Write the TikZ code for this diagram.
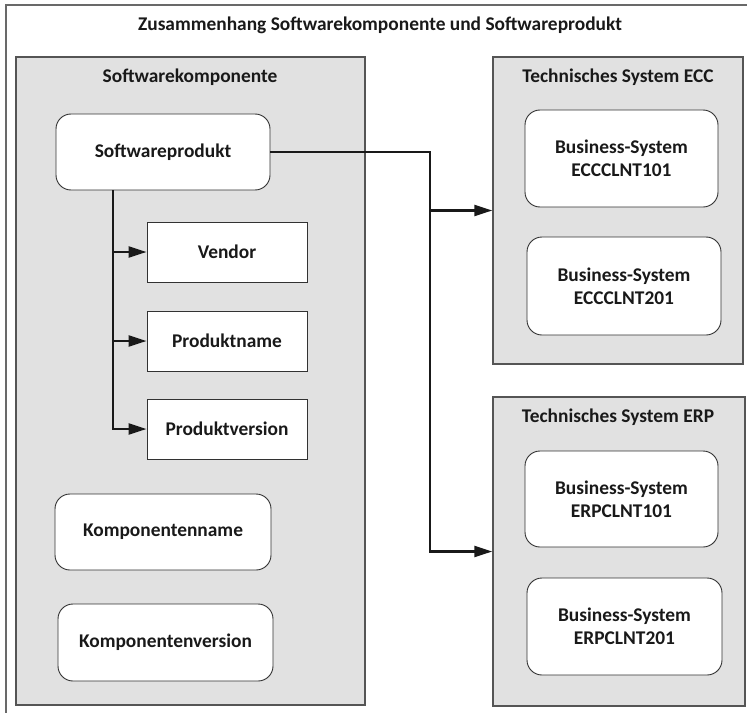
\documentclass[tikz,border=0pt]{standalone}
\usepackage{fontspec}
\setmainfont{Carlito}
\usetikzlibrary{arrows.meta,calc}
\definecolor{panelfill}{RGB}{225,225,225}
\definecolor{panelline}{RGB}{85,85,85}
\definecolor{frameline}{RGB}{105,105,105}
\definecolor{boxline}{RGB}{50,50,50}
\begin{document}
\begin{tikzpicture}[x=1bp,y=-1bp,
  every node/.style={font=\fontsize{19.4bp}{23bp}\selectfont\bfseries, text=black!90},
  panel/.style={draw=panelline, line width=1.4bp, fill=panelfill, rectangle, inner sep=0pt},
  rbox/.style={draw=boxline, line width=0.9bp, fill=white, rounded corners=15bp, align=center, inner sep=0pt},
  sbox/.style={draw=boxline, line width=0.9bp, fill=white, rectangle, align=center, inner sep=0pt, minimum width=160bp, minimum height=60bp},
  ptitle/.style={inner sep=0pt},
  conn/.style={line width=2.4bp, black!90},
  arr/.style={conn, -{Triangle[length=18bp,width=11bp]}}
]
\useasboundingbox (0,0) rectangle (747,713);
% outer frame (only top and left visible)
\draw[frameline, line width=2bp] (5.5,720) -- (5.5,5) -- (760,5);
\node[ptitle] (title) at (380,25) {Zusammenhang Softwarekomponente und Softwareprodukt};

% panels
\node[panel, minimum width=349bp, minimum height=648bp] (skp) at (190.5,381) {};
\node[panel, minimum width=250bp, minimum height=307bp] (ecc) at (618,210.5) {};
\node[panel, minimum width=252bp, minimum height=309bp] (erp) at (619,551.5) {};

\node[ptitle] (skpt) at (190,77) {Softwarekomponente};
\node[ptitle] (ecct) at (618,77) {Technisches System ECC};
\node[ptitle] (erpt) at (618,417) {Technisches System ERP};

% left panel content
\node[rbox, minimum width=214bp, minimum height=76bp] (sp) at (163,152) {Softwareprodukt};
\node[sbox] (vendor) at (227,252) {Vendor};
\node[sbox] (pname) at (227,341) {Produktname};
\node[sbox] (pver) at (227,429) {Produktversion};
\node[rbox, minimum width=216bp, minimum height=76bp] (kname) at (163,532) {Komponentenname};
\node[rbox, minimum width=215bp, minimum height=77bp] (kver) at (165.5,642.5) {Komponentenversion};

% right panels content
\node[rbox, minimum width=193bp, minimum height=97bp] (ecc1) at (621.5,158.5) {Business-System\\ECCCLNT101};
\node[rbox, minimum width=194bp, minimum height=98bp] (ecc2) at (624,286) {Business-System\\ECCCLNT201};
\node[rbox, minimum width=193bp, minimum height=96bp] (erp1) at (621.5,499) {Business-System\\ERPCLNT101};
\node[rbox, minimum width=195bp, minimum height=97bp] (erp2) at (624.5,626.5) {Business-System\\ERPCLNT201};

% connectors
\coordinate (trunk) at (113,0);
\coordinate (bus) at (430,0);
\draw[conn] (sp.south -| trunk) -- (trunk |- pver.west);
\draw[arr] (trunk |- vendor.west) -- (vendor.west);
\draw[arr] (trunk |- pname.west) -- (pname.west);
\draw[arr] (sp.south -| trunk) |- (pver.west);
\draw[arr] (sp.east) -| (bus |- ecc.west) -- (ecc.west);
\draw[arr] (bus |- ecc.west) |- (erp.west);
\end{tikzpicture}
\end{document}
